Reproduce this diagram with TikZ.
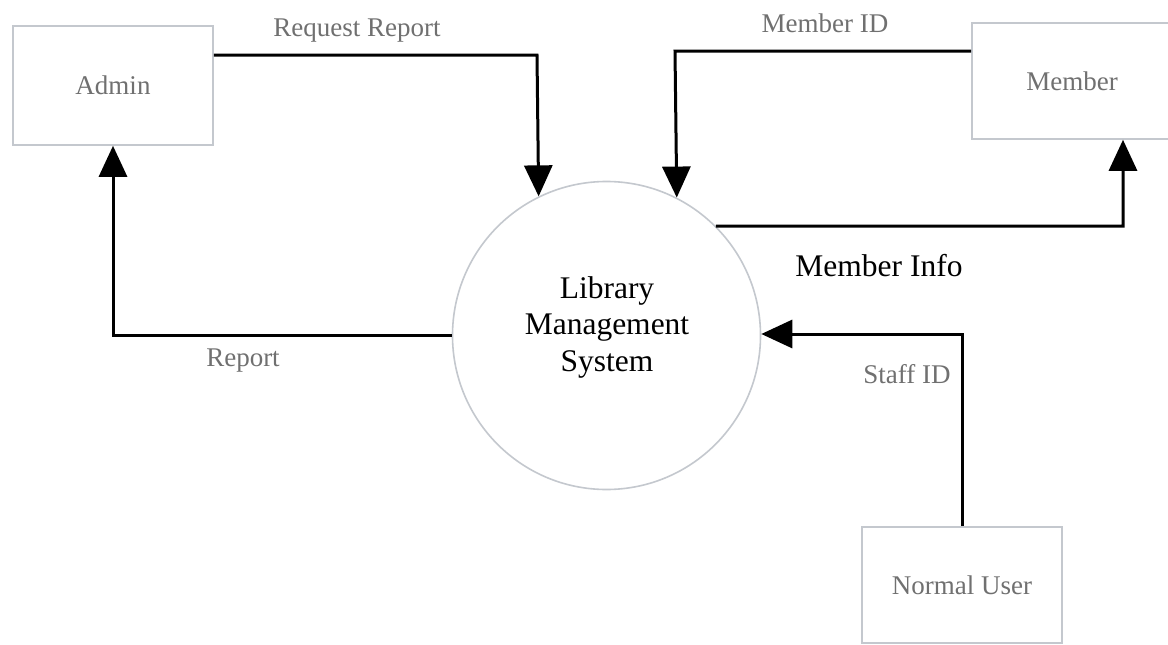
\documentclass[tikz,border=0pt]{standalone}
\usepackage{fontspec}
\setmainfont{Liberation Serif}
\usetikzlibrary{arrows.meta}
\definecolor{lbl}{RGB}{112,112,112}
\definecolor{edge}{RGB}{196,200,206}
\tikzset{
  boxnode/.style={draw=edge, line width=1.6pt, fill=white, minimum width=200pt, inner sep=0pt,
    text=lbl, font=\fontsize{27}{30}\selectfont},
  procnode/.style={circle, draw=edge, line width=1.6pt, minimum size=308pt, inner sep=0pt},
  proctext/.style={align=center, inner sep=0pt, font=\fontsize{31.5}{36.5}\selectfont},
  flow/.style={line width=3pt, -{Triangle[width=28pt,length=31pt]}},
  flowlbl/.style={text=lbl, font=\fontsize{27}{30}\selectfont, inner sep=0pt},
}
\begin{document}
\begin{tikzpicture}[x=1pt,y=-1pt]
\useasboundingbox (0,0) rectangle (1168,645);
\fill[white] (0,0) rectangle (1168,645);

\node[boxnode, minimum height=119pt] (admin) at (113,85.5) {Admin};
\node[boxnode, minimum height=116pt] (member) at (1072,81) {Member};
\node[boxnode, minimum height=116pt] (user) at (962,585) {Normal User};
\node[procnode] (circ) at (606.5,335.5) {};
\node[proctext] (circtext) at (607,327) {Library\\Management\\System};

\coordinate (rq) at (537,55);
\coordinate (mi) at (675,51);
\coordinate (mf) at (1123,226);
\coordinate (rp) at (113,335);
\coordinate (st) at (962,334);

\draw[flow] (admin.east |- rq) -- (rq) -- (circ.116.8);
\draw[flow] (member.west |- mi) -- (mi) -- (circ.63.6);
\draw[flow] (circ.45.6) -- (mf) -- (mf |- member.south);
\draw[flow] (rp -| circ.west) -- (rp) -- (admin.south);
\draw[flow] (user.north) -- (st) -- (st -| circ.east);

\node[flowlbl] (lrq) at (357,31) {Request Report};
\node[flowlbl] (lmi) at (825,23) {Member ID};
\node[inner sep=0pt, font=\fontsize{31.5}{34}\selectfont] (lmf) at (879,266) {Member Info};
\node[flowlbl] (lrp) at (243,361) {Report};
\node[flowlbl] (lst) at (907,374) {Staff ID};
\end{tikzpicture}
\end{document}
